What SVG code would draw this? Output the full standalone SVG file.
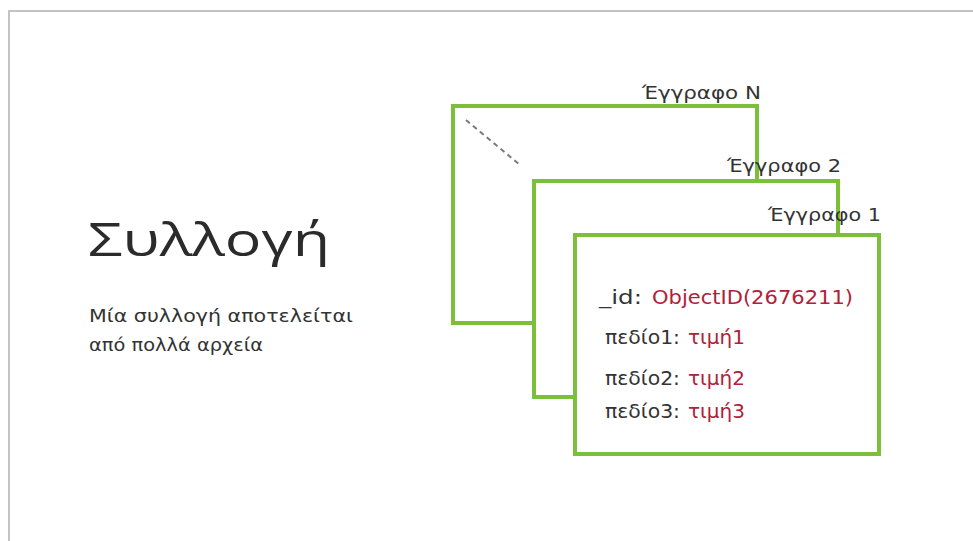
<svg xmlns="http://www.w3.org/2000/svg" width="973" height="541" viewBox="0 0 973 541">
  <style>
    .frame { fill: none; stroke: #c3c3c3; stroke-width: 2; }
    .doc { fill: #ffffff; stroke: #7cbf3a; stroke-width: 4; }
    .label { font-family: "DejaVu Sans", "Noto Sans", sans-serif; font-size: 17px; fill: #333333; }
    .title { font-family: "Open Sans", "DejaVu Sans", sans-serif; font-weight: 400; font-size: 46px; fill: #2b2b2b; }
    .sub { font-family: "DejaVu Sans", "Noto Sans", sans-serif; font-size: 17px; fill: #333333; }
    .key { font-family: "DejaVu Sans", "Noto Sans", sans-serif; font-size: 19px; fill: #333333; }
    .val { fill: #b0213a; }
    .dash { stroke: #7a7a7a; stroke-width: 2; stroke-dasharray: 5 4; fill: none; }
  </style>

  <!-- outer frame, open to the right and bottom -->
  <path class="frame" d="M9 541 V11 H973"/>

  <!-- heading and description -->
  <g id="collection">
    <text class="title" x="88" y="256" textLength="242" lengthAdjust="spacingAndGlyphs">Συλλογή</text>
    <text class="sub" x="89" y="322" textLength="264" lengthAdjust="spacingAndGlyphs">Μία συλλογή αποτελείται</text>
    <text class="sub" x="89" y="351" textLength="174" lengthAdjust="spacingAndGlyphs">από πολλά αρχεία</text>
  </g>

  <!-- stacked documents, back to front -->
  <g id="doc-n">
    <rect class="doc" x="453" y="106" width="304" height="217"/>
    <line class="dash" x1="466" y1="120" x2="520" y2="165"/>
    <text class="label" x="642" y="99" textLength="119" lengthAdjust="spacingAndGlyphs">Έγγραφο N</text>
  </g>

  <g id="doc-2">
    <rect class="doc" x="534" y="181" width="304" height="216"/>
    <text class="label" x="727" y="172" textLength="114" lengthAdjust="spacingAndGlyphs">Έγγραφο 2</text>
  </g>

  <g id="doc-1">
    <rect class="doc" x="575" y="235" width="304" height="219"/>
    <text class="label" x="768" y="221" textLength="113" lengthAdjust="spacingAndGlyphs">Έγγραφο 1</text>
    <text class="key" y="304"><tspan x="599" textLength="43" lengthAdjust="spacingAndGlyphs">_id:</tspan><tspan class="val" x="652" textLength="201" lengthAdjust="spacingAndGlyphs">ObjectID(2676211)</tspan></text>
    <text class="key" y="344"><tspan x="605" textLength="75" lengthAdjust="spacingAndGlyphs">πεδίο1:</tspan><tspan class="val" x="688" textLength="57" lengthAdjust="spacingAndGlyphs">τιμή1</tspan></text>
    <text class="key" y="385"><tspan x="605" textLength="75" lengthAdjust="spacingAndGlyphs">πεδίο2:</tspan><tspan class="val" x="688" textLength="57" lengthAdjust="spacingAndGlyphs">τιμή2</tspan></text>
    <text class="key" y="418"><tspan x="605" textLength="75" lengthAdjust="spacingAndGlyphs">πεδίο3:</tspan><tspan class="val" x="688" textLength="57" lengthAdjust="spacingAndGlyphs">τιμή3</tspan></text>
  </g>
</svg>
